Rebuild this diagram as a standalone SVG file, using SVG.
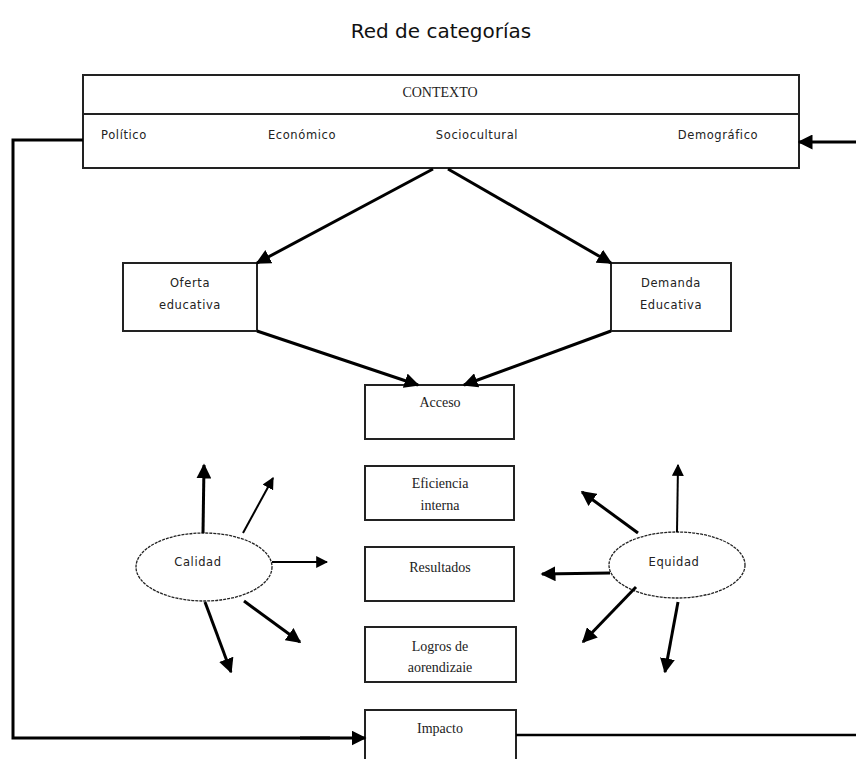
<svg xmlns="http://www.w3.org/2000/svg" width="856" height="759" viewBox="0 0 856 759">
<defs>
<marker id="ah" viewBox="0 0 10 10" refX="9" refY="5" markerWidth="5" markerHeight="5" orient="auto" markerUnits="strokeWidth">
<path d="M0,0 L10,5 L0,10 z" fill="#000"/>
</marker>
<marker id="ah2" viewBox="0 0 10 10" refX="9" refY="5" markerWidth="6" markerHeight="6" orient="auto" markerUnits="strokeWidth">
<path d="M0,0 L10,5 L0,10 z" fill="#000"/>
</marker>
<style>
.box{fill:#fff;stroke:#222;stroke-width:2}
.ell{fill:#fff;stroke:#222;stroke-width:1.3;stroke-dasharray:3 1}
.ser{font-family:"Liberation Serif",serif;font-size:14px;fill:#222;text-anchor:middle}
.san{font-family:"DejaVu Sans",sans-serif;font-size:11.5px;fill:#222;text-anchor:middle;letter-spacing:0.6px}
.c{fill:none;stroke:#000;stroke-width:3}
.a{fill:none;stroke:#000;stroke-width:3;marker-end:url(#ah)}
.a2{fill:none;stroke:#000;stroke-width:2;marker-end:url(#ah2)}
</style>
</defs>
<rect width="856" height="759" fill="#fff"/>
<text x="441" y="38" font-family="DejaVu Sans,sans-serif" font-size="20" text-anchor="middle" fill="#111">Red de categorías</text>

<g id="contexto">
<rect class="box" x="83" y="75" width="716" height="93"/>
<line x1="83" y1="114" x2="799" y2="114" stroke="#222" stroke-width="2"/>
<text class="ser" x="440" y="97">CONTEXTO</text>
<text class="san" x="124" y="139">Político</text>
<text class="san" x="302" y="139">Económico</text>
<text class="san" x="477" y="139">Sociocultural</text>
<text class="san" x="718" y="139">Demográfico</text>
</g>
<g id="oferta">
<rect class="box" x="123" y="263" width="134" height="68"/>
<text class="san" x="190" y="287">Oferta</text>
<text class="san" x="190" y="309">educativa</text>
</g>
<g id="demanda">
<rect class="box" x="611" y="263" width="120" height="68"/>
<text class="san" x="671" y="287">Demanda</text>
<text class="san" x="671" y="309">Educativa</text>
</g>
<g id="acceso">
<rect class="box" x="365" y="385" width="149" height="54"/>
<text class="ser" x="440" y="407">Acceso</text>
</g>
<g id="eficiencia">
<rect class="box" x="365" y="466" width="149" height="54"/>
<text class="ser" x="440" y="488">Eficiencia</text>
<text class="ser" x="440" y="510">interna</text>
</g>
<g id="resultados">
<rect class="box" x="365" y="547" width="149" height="54"/>
<text class="ser" x="440" y="572">Resultados</text>
</g>
<g id="logros">
<rect class="box" x="365" y="627" width="151" height="55"/>
<text class="ser" x="440" y="651">Logros de</text>
<text class="ser" x="440" y="672">aorendizaie</text>
</g>
<g id="impacto">
<rect class="box" x="365" y="710" width="151" height="60"/>
<text class="ser" x="440" y="733">Impacto</text>
</g>
<g id="calidad">
<ellipse class="ell" cx="204" cy="567" rx="68" ry="34"/>
<text class="san" x="198" y="566">Calidad</text>
</g>
<g id="equidad">
<ellipse class="ell" cx="677" cy="565" rx="68" ry="33"/>
<text class="san" x="674" y="566">Equidad</text>
</g>

<g id="connectors">
<line class="a" x1="433" y1="169" x2="257" y2="263"/>
<line class="a" x1="448" y1="169" x2="611" y2="263"/>
<line class="a" x1="257" y1="331" x2="418" y2="385"/>
<line class="a" x1="611" y1="331" x2="464" y2="385"/>
<polyline class="c" points="83,140 13,140 13,738 330,738"/>
<line class="a" x1="300" y1="738" x2="365" y2="738"/>
<line x1="516" y1="735" x2="856" y2="735" stroke="#000" stroke-width="2.5"/>
<line class="a" x1="856" y1="142" x2="799" y2="142"/>
<line class="a" x1="203" y1="533" x2="204" y2="465"/>
<line class="a2" x1="243" y1="533" x2="273" y2="478"/>
<line class="a2" x1="272" y1="562" x2="327" y2="562"/>
<line class="a" x1="244" y1="601" x2="300" y2="642"/>
<line class="a" x1="205" y1="602" x2="231" y2="672"/>
<line class="a2" x1="677" y1="532" x2="678" y2="465"/>
<line class="a" x1="638" y1="533" x2="582" y2="492"/>
<line class="a" x1="610" y1="573" x2="542" y2="574"/>
<line class="a" x1="636" y1="587" x2="583" y2="642"/>
<line class="a" x1="678" y1="602" x2="665" y2="672"/>
</g>
</svg>
